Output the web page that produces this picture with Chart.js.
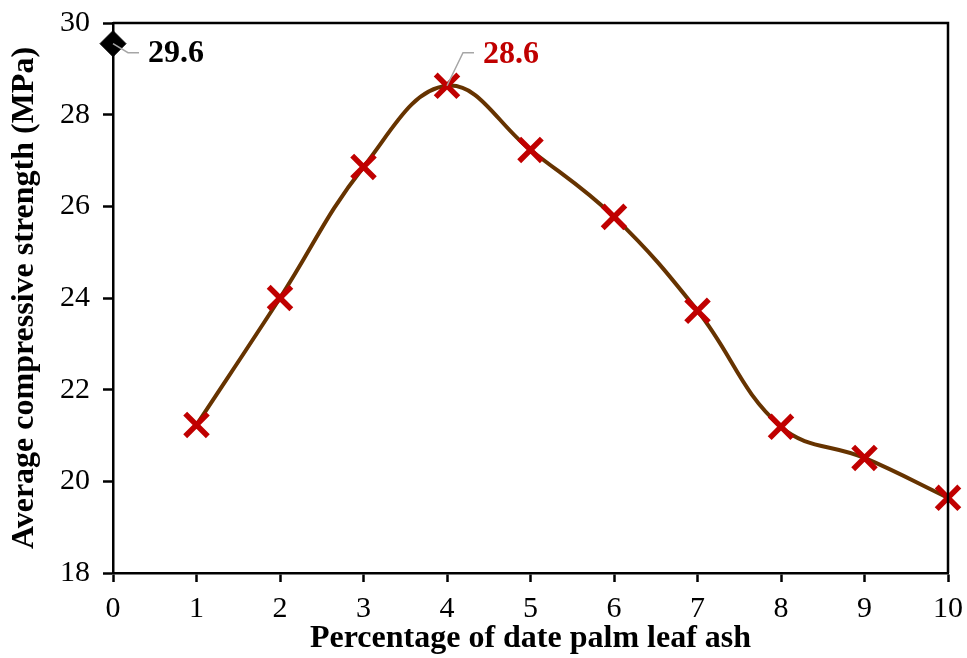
<!DOCTYPE html>
<html>
<head>
<meta charset="utf-8">
<script src="https://cdn.jsdelivr.net/npm/chart.js@4"></script>
<style>
  html, body { margin: 0; padding: 0; background: #fff; }
  #wrap { width: 967px; height: 658px; position: relative; }
</style>
</head>
<body>
<div id="wrap"><canvas id="grafico" width="967" height="658"></canvas></div>
<script>
// datos
const porcentajes = [1, 2, 3, 4, 5, 6, 7, 8, 9, 10];
const resistencia = [21.23, 24.0, 26.86, 28.63, 27.23, 25.77, 23.72, 21.19, 20.51, 19.64];
const controlX = [0];
const controlY = [29.55];
const etiquetaControl = '29.6';
const etiquetaMax = '28.6';
const ticksX = [0, 1, 2, 3, 4, 5, 6, 7, 8, 9, 10];
const ticksY = [18, 20, 22, 24, 26, 28, 30];

const fuente = '"Liberation Serif", "Times New Roman", serif';

// borde superior/derecho y etiquetas con línea guía
const marco = {
  id: 'marco',
  afterDraw(chart) {
    const { ctx, chartArea: a, scales: { x, y } } = chart;
    ctx.save();
    ctx.strokeStyle = '#000';
    ctx.lineWidth = 2.5;
    ctx.beginPath();
    ctx.moveTo(a.left, a.top); ctx.lineTo(a.right, a.top); ctx.lineTo(a.right, a.bottom);
    ctx.stroke();

    ctx.font = 'bold 32px ' + fuente;
    ctx.textBaseline = 'middle';
    // etiqueta del control
    let px = x.getPixelForValue(controlX[0]), py = y.getPixelForValue(controlY[0]);
    ctx.strokeStyle = '#a6a6a6'; ctx.lineWidth = 1.5;
    ctx.beginPath(); ctx.moveTo(px, py); ctx.lineTo(px + 15, py + 9); ctx.lineTo(px + 26, py + 9); ctx.stroke();
    ctx.fillStyle = '#000';
    ctx.fillText(etiquetaControl, px + 35, py + 10);
    // etiqueta del máximo
    const im = resistencia.indexOf(Math.max(...resistencia));
    px = x.getPixelForValue(porcentajes[im]); py = y.getPixelForValue(resistencia[im]);
    ctx.beginPath(); ctx.moveTo(px, py); ctx.lineTo(px + 16, py - 33); ctx.lineTo(px + 27, py - 33); ctx.stroke();
    ctx.fillStyle = '#c00000';
    ctx.fillText(etiquetaMax, px + 36, py - 31);
    ctx.restore();
  }
};

const ctx = document.getElementById('grafico').getContext('2d');
new Chart(ctx, {
  type: 'line',
  data: {
    datasets: [
      {
        data: porcentajes.map((v, i) => ({ x: v, y: resistencia[i] })),
        borderColor: '#663300',
        borderWidth: 4,
        tension: 0.4,
        pointStyle: 'crossRot',
        pointRadius: 16,
        pointBorderWidth: 5.5,
        pointBorderColor: '#c00000',
        pointBackgroundColor: '#c00000',
        clip: false
      },
      {
        data: controlX.map((v, i) => ({ x: v, y: controlY[i] })),
        showLine: false,
        pointStyle: 'rectRot',
        pointRadius: 13,
        pointBackgroundColor: '#000',
        pointBorderColor: '#000',
        clip: false
      }
    ]
  },
  options: {
    responsive: false,
    animation: false,
    devicePixelRatio: 1,
    layout: { autoPadding: false, padding: { top: 23, right: 19, left: 6, bottom: 0 } },
    plugins: { legend: { display: false }, tooltip: { enabled: false } },
    scales: {
      x: {
        type: 'linear', min: 0, max: 10,
        afterBuildTicks: s => { s.ticks = ticksX.map(v => ({ value: v })); },
        afterFit: s => { s.height = 85; s.paddingLeft = 0; s.paddingRight = 0; },
        grid: { drawOnChartArea: false, tickLength: 9, tickWidth: 2.5, tickColor: '#000' },
        border: { color: '#000', width: 2.5 },
        ticks: { color: '#000', font: { family: fuente, size: 30 }, padding: 9, maxRotation: 0 },
        title: { display: true, text: 'Percentage of date palm leaf ash', color: '#000',
                 font: { family: fuente, size: 32, weight: 'bold' }, padding: 0 }
      },
      y: {
        min: 18, max: 30,
        afterBuildTicks: s => { s.ticks = ticksY.map(v => ({ value: v })); },
        afterFit: s => { s.width = 107; s.paddingTop = 0; s.paddingBottom = 0; },
        grid: { drawOnChartArea: false, tickLength: 10, tickWidth: 2.5, tickColor: '#000' },
        border: { color: '#000', width: 2.5 },
        ticks: { color: '#000', font: { family: fuente, size: 30 }, padding: 13 },
        title: { display: true, text: 'Average compressive strength (MPa)', color: '#000',
                 font: { family: fuente, size: 32, weight: 'bold' }, padding: 0 }
      }
    }
  },
  plugins: [marco]
});
</script>
</body>
</html>
